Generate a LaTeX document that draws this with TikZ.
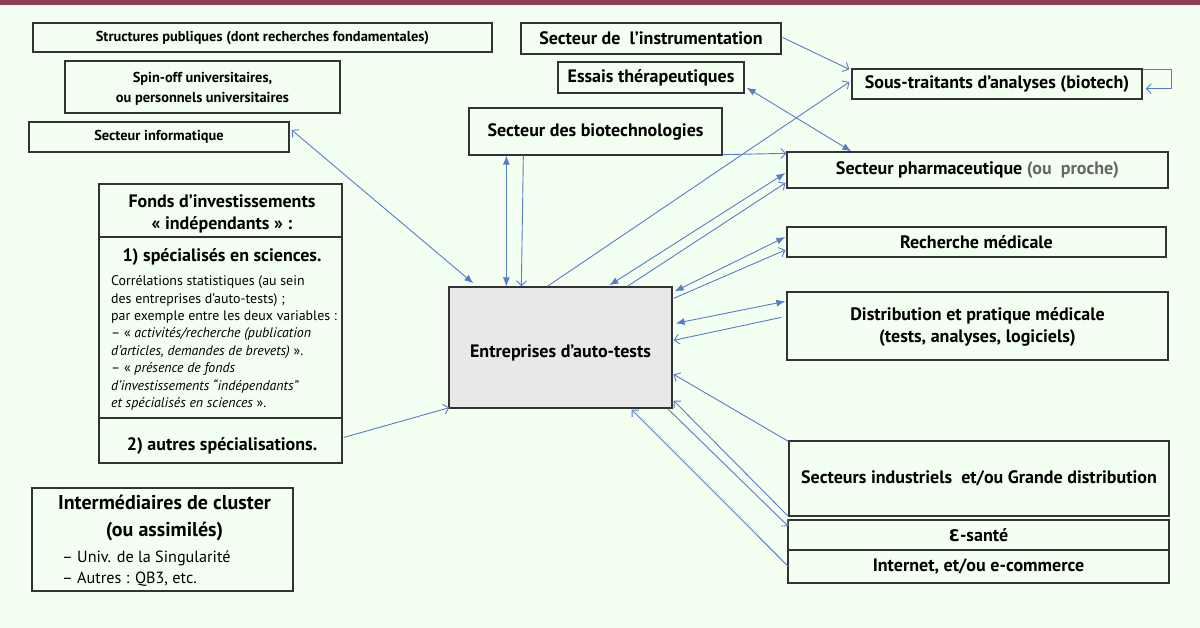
\documentclass[tikz,border=0pt]{standalone}
\usepackage{fontspec}
\setmainfont{PT Sans}
\newfontfamily\dejavu{DejaVu Sans}
\usetikzlibrary{arrows.meta,calc}
\definecolor{bg}{HTML}{F3FFF0}
\definecolor{bar}{HTML}{8E3F52}
\definecolor{arr}{HTML}{5A7ACB}
\definecolor{bord}{HTML}{333333}
\definecolor{entfill}{HTML}{E8E8E8}
\definecolor{greytxt}{HTML}{666666}
\tikzset{
  FT/.tip={Latex[length=9pt,width=7pt]},
  OT/.tip={Straight Barb[length=5pt,width=10pt]},
  box/.style={draw=bord, line width=1.3pt, fill=bg, inner sep=0pt, align=center,
              font=\bfseries\fontsize{18}{22}\selectfont},
  sbox/.style={box, font=\bfseries\fontsize{14.4}{20}\selectfont},
  sz/.style 2 args={minimum width=#1pt, minimum height=#2pt},
  link/.style={draw=arr, line width=0.9pt},
  lbl/.style={inner sep=0pt, align=center, font=\bfseries\fontsize{18}{22}\selectfont},
}
\begin{document}
\begin{tikzpicture}[x=1pt,y=-1pt]
\fill[bg] (0,0) rectangle (1200,628);
\useasboundingbox (0,0) rectangle (1200,628);
\fill[bar] (0,0) rectangle (1200,5);

% left column
\node[sbox, sz={459}{29}] (pub) at (262.5,37.5) {Structures publiques (dont recherches fondamentales)};
\node[sbox, sz={275}{52}] (spin) at (202.5,87) {};
\node[lbl, font=\bfseries\fontsize{14.4}{20}\selectfont] (spinlbl) at (202.5,88.5) {Spin-off universitaires,\\ou personnels universitaires};
\node[sbox, sz={260}{30}] (info) at (159,137) {Secteur informatique};

% fonds
\node[box, sz={243}{53}] (ftop) at (220.5,210.5) {};
\node[lbl] (ftoplbl) at (222,214) {Fonds d’investissements\\« indépendants » :};
\node[box, sz={243}{181}] (fmid) at (220.5,327.5) {};
\node[box, sz={243}{45}] (fbot) at (220.5,440.5) {};
\node[lbl, font=\bfseries\fontsize{18}{22}\selectfont] (fmidlbl) at (222,257) {1) spécialisés en sciences.};
\node[lbl, font=\bfseries\fontsize{18}{22}\selectfont] (fbotlbl) at (222,446) {2) autres spécialisations.};
\node[inner sep=0pt, anchor=north west, align=left, font=\fontsize{13.9}{17.4}\selectfont] (fbody) at (111,275.5)
 {Corrélations statistiques (au sein\\
  des entreprises d’auto-tests) ;\\
  par exemple entre les deux variables :\\
  – « \textit{activités/recherche (publication}\\
  \textit{d’articles, demandes de brevets)} ».\\
  – « \textit{présence de fonds}\\
  \textit{d’investissements “indépendants”}\\
  \textit{et spécialisés en sciences} ».};

% intermediaires
\node[box, sz={261}{103}] (inter) at (162.5,539.5) {};
\node[lbl, font=\bfseries\fontsize{20}{27}\selectfont] (interhead) at (164.5,518) {Intermédiaires de cluster\\(ou assimilés)};
\node[inner sep=0pt, anchor=west, align=left, font=\fontsize{16.2}{21}\selectfont] (interlist) at (62,568.5)
 {– Univ. de la Singularité\\– Autres : QB3, etc.};

% centre
\node[box, sz={223}{121}, fill=entfill] (ent) at (560.5,347.5) {};
\node[lbl] (entlbl) at (560.5,353) {Entreprises d’auto-tests};

% top/right
\node[box, sz={260}{31}] (instr) at (651,38.5) {Secteur de\ \ l’instrumentation};
\node[box, sz={186}{31}] (essais) at (651,77.5) {Essais thérapeutiques};
\node[box, sz={290}{30}] (sous) at (997,84) {Sous-traitants d’analyses (biotech)};
\node[box, sz={253}{47}] (bio) at (595.5,131.5) {Secteur des biotechnologies};
\node[box, sz={381}{36}] (pharma) at (977.5,170) {Secteur pharmaceutique {\color{greytxt}(ou\ \ proche)}};
\node[box, sz={379}{30}] (rech) at (976.5,242) {Recherche médicale};
\node[box, sz={381}{68}] (distr) at (977.5,326) {};
\node[lbl] (distrlbl) at (977.5,327) {Distribution et pratique médicale\\(tests, analyses, logiciels)};
\node[box, sz={380}{75}] (indus) at (979,478.5) {Secteurs industriels\ \ et/ou Grande distribution};
\node[box, sz={381}{30}] (esante) at (978.5,535) {{\dejavu\bfseries\fontsize{16}{22}\selectfont Ɛ}-santé};
\node[box, sz={381}{33}] (internet) at (978.5,566.5) {Internet, et/ou e-commerce};

% connectors
\draw[link, arrows={OT-FT}] ($(info.east)+(2,-7)$) -- ($(ent.north west)+(25,-3)$);
\draw[link, arrows={FT-FT}] ($(bio.south west)+(38,0)$) -- ($(ent.north west)+(58,0)$);
\draw[link, arrows={-OT}] ($(bio.south west)+(55,0)$) -- ($(ent.north west)+(73,0)$);
\draw[link, arrows={-OT}] ($(bio.south east)+(0,-1)$) -- ($(pharma.north west)+(0,2)$);
\draw[link, arrows={-OT}] ($(ent.north west)+(99,0)$) -- ($(sous.west)+(-2,-2)$);
\draw[link, arrows={-OT}] ($(instr.east)+(1,-1)$) -- ($(sous.north west)+(-2,1)$);
\draw[link, arrows={FT-FT}] ($(essais.south east)+(2,-6)$) -- ($(pharma.north west)+(65,0)$);
\draw[link, arrows={FT-FT}] ($(ent.north west)+(161,-1)$) -- ($(pharma.west)+(-1,3)$);
\draw[link, arrows={-OT}] ($(ent.north west)+(179,0)$) -- ($(pharma.west)+(-1,13)$);
\draw[link, arrows={FT-FT}] ($(ent.north east)+(2,5)$) -- ($(rech.west)+(-1,-5)$);
\draw[link, arrows={-OT}] ($(ent.north east)+(1,12)$) -- ($(rech.west)+(-1,8)$);
\draw[link, arrows={FT-FT}] ($(ent.north east)+(3,37)$) -- ($(distr.north west)+(-1,10)$);
\draw[link, arrows={-OT}] ($(distr.north west)+(-5,26)$) -- ($(ent.north east)+(1,54)$);
\draw[link, arrows={-OT}] ($(indus.north west)+(0,1)$) -- ($(ent.north east)+(1,88)$);
\draw[link, arrows={-OT}] ($(esante.north west)+(1,-3)$) -- ($(ent.south east)+(1,-8)$);
\draw[link, arrows={-OT}] ($(ent.south east)+(-5,0)$) -- ($(esante.north west)+(1,7)$);
\draw[link, arrows={-OT}] ($(internet.west)+(1,0)$) -- ($(ent.south east)+(-41,1)$);
\draw[link, arrows={-OT}] ($(fbot.east)+(1,-3)$) -- ($(ent.south west)+(1,-1)$);
\draw[link, arrows={-OT}] ($(sous.north east)+(0,1)$) -- ++(29,0) |- ($(sous.south east)+(3,-11)$);
\end{tikzpicture}
\end{document}
